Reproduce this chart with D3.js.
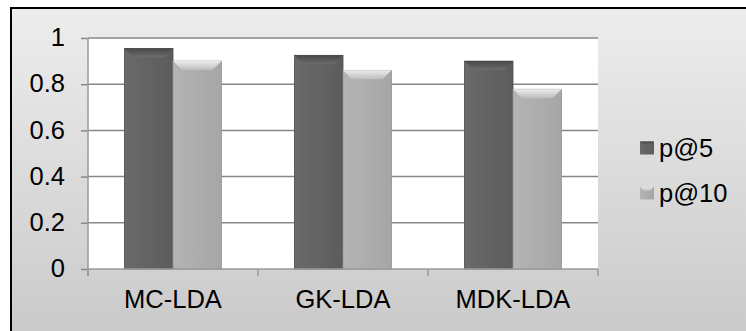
<!DOCTYPE html>
<html lang='en'>
<head>
	<meta charset='utf-8'>
	<script src='https://d3js.org/d3.v7.min.js'></script>
	<style>
		body { margin: 0; background: #fff; }
		svg { display: block; }
		text { font-family: "Liberation Sans", Arial, sans-serif; fill: #000; }
	</style>
</head>
<body>
	<svg id='chart' width='746' height='331'></svg>
	<script>
		// data
		var categories = ['MC-LDA', 'GK-LDA', 'MDK-LDA'];
		var seriesNames = ['p@5', 'p@10'];
		var p5 = [0.955, 0.925, 0.9];
		var p10 = [0.9, 0.86, 0.778];
		var yTicks = [0, 0.2, 0.4, 0.6, 0.8, 1];

		var series = [p5, p10];
		var colors = {
			'p@5': { body: ['#6a6a6a', '#5c5c5c'], edge: '#4c4c4c', top: ['#474747', '#6e6e6e'] },
			'p@10': { body: ['#b4b4b4', '#a6a6a6'], edge: '#969696', top: ['#ececec', '#bcbcbc'] }
		};
		var fontSize = 25.5;

		var svg = d3.select('#chart');

		var defs = svg.append('defs');
		var bg = defs.append('linearGradient').attr('id', 'bg')
			.attr('x1', 0).attr('y1', 0).attr('x2', 0).attr('y2', 1);
		bg.append('stop').attr('offset', '0%').attr('stop-color', '#ededed');
		bg.append('stop').attr('offset', '100%').attr('stop-color', '#c2c2c2');

		seriesNames.forEach(function(s, i) {
			var g = defs.append('linearGradient').attr('id', 'top' + i)
				.attr('x1', 0).attr('y1', 0).attr('x2', 0).attr('y2', 1);
			g.append('stop').attr('offset', '0%').attr('stop-color', colors[s].top[0]);
			g.append('stop').attr('offset', '100%').attr('stop-color', colors[s].top[1]);
			var b = defs.append('linearGradient').attr('id', 'body' + i)
				.attr('x1', 0).attr('y1', 0).attr('x2', 1).attr('y2', 0);
			b.append('stop').attr('offset', '0%').attr('stop-color', colors[s].body[0]);
			b.append('stop').attr('offset', '100%').attr('stop-color', colors[s].body[1]);
		});

		// chart area with border
		svg.append('rect')
			.attr('x', 11).attr('y', 8)
			.attr('width', 800).attr('height', 400)
			.attr('fill', 'url(#bg)')
			.attr('stroke', '#000')
			.attr('stroke-width', 2);

		var x0 = d3.scaleBand().domain(categories).range([88, 598]).padding(0);
		var x1 = d3.scaleBand().domain(seriesNames).range([0, x0.bandwidth()])
			.paddingInner(0).paddingOuter(0.75);
		var y = d3.scaleLinear().domain([0, 1]).range([269, 38]);

		// plot area
		svg.append('rect')
			.attr('x', x0.range()[0]).attr('y', y(1))
			.attr('width', x0.range()[1] - x0.range()[0])
			.attr('height', y(0) - y(1))
			.attr('fill', '#fff');

		// gridlines
		svg.append('g').selectAll('line')
			.data(yTicks.filter(function(d) { return d > 0; }))
			.join('line')
			.attr('x1', x0.range()[0]).attr('x2', x0.range()[1])
			.attr('y1', function(d) { return y(d); })
			.attr('y2', function(d) { return y(d); })
			.attr('stroke', '#878787')
			.attr('stroke-width', 1.5);

		// y axis
		var gy = svg.append('g')
			.attr('transform', 'translate(' + x0.range()[0] + ',0)')
			.call(d3.axisLeft(y).tickValues(yTicks).tickSize(7).tickPadding(16)
				.tickFormat(function(d) { return d === 1 ? '1' : d === 0 ? '0' : d3.format('.1f')(d); }));
		gy.select('.domain').remove();
		gy.selectAll('.tick line').attr('stroke', '#878787').attr('stroke-width', 1.5);
		gy.selectAll('.tick text')
			.attr('font-size', fontSize)
			.attr('font-family', null)
			.attr('dy', '0.3em');

		// y axis line
		svg.append('line')
			.attr('x1', x0.range()[0]).attr('x2', x0.range()[0])
			.attr('y1', y(1)).attr('y2', y(0) + 7)
			.attr('stroke', '#9a9a9a').attr('stroke-width', 1.5);

		// bars
		var groups = svg.append('g').selectAll('g')
			.data(categories)
			.join('g')
			.attr('transform', function(d) { return 'translate(' + x0(d) + ',0)'; });

		groups.each(function(cat, ci) {
			var g = d3.select(this);
			seriesNames.forEach(function(s, si) {
				var v = series[si][ci];
				var left = x1(s), right = x1(s) + x1.bandwidth();
				var top = y(v), bottom = y(0);
				var b = 9;
				var c = colors[s];
				g.append('rect')
					.attr('x', left).attr('y', top)
					.attr('width', right - left).attr('height', bottom - top)
					.attr('fill', 'url(#body' + si + ')')
					.attr('stroke', c.edge).attr('stroke-width', 0.8);
				// top bevel
				g.append('polygon')
					.attr('points', [[left, top], [right, top], [right - b, top + b], [left + b, top + b]].join(' '))
					.attr('fill', 'url(#top' + si + ')');
			});
		});

		// x axis line and ticks
		svg.append('line')
			.attr('x1', x0.range()[0]).attr('x2', x0.range()[1])
			.attr('y1', y(0)).attr('y2', y(0))
			.attr('stroke', '#9a9a9a').attr('stroke-width', 1.5);
		var bounds = categories.map(function(d) { return x0(d); }).concat([x0.range()[1]]);
		svg.append('g').selectAll('line')
			.data(bounds)
			.join('line')
			.attr('x1', function(d) { return d; }).attr('x2', function(d) { return d; })
			.attr('y1', y(0)).attr('y2', y(0) + 7)
			.attr('stroke', '#9a9a9a').attr('stroke-width', 1.5);

		// category labels
		svg.append('g').selectAll('text')
			.data(categories)
			.join('text')
			.attr('text-anchor', 'middle')
			.attr('font-size', fontSize)
			.attr('x', function(d) { return x0(d) + x0.bandwidth() / 2; })
			.attr('y', y(0) + 39)
			.text(function(d) { return d; });

		// legend
		var legend = svg.append('g').selectAll('g')
			.data(seriesNames)
			.join('g')
			.attr('transform', function(d, i) { return 'translate(640,' + (148 + i * 45) + ')'; });
		legend.append('rect')
			.attr('x', 0).attr('y', -6.5)
			.attr('width', 14).attr('height', 13)
			.attr('fill', function(d, i) { return 'url(#body' + i + ')'; });
		legend.append('polygon')
			.attr('points', '0,-6.5 14,-6.5 10,-2 4,-2')
			.attr('fill', function(d, i) { return 'url(#top' + i + ')'; });
		legend.append('text')
			.attr('x', 19)
			.attr('dy', '0.35em')
			.attr('font-size', fontSize)
			.text(function(d) { return d; });
	</script>
</body>
</html>
